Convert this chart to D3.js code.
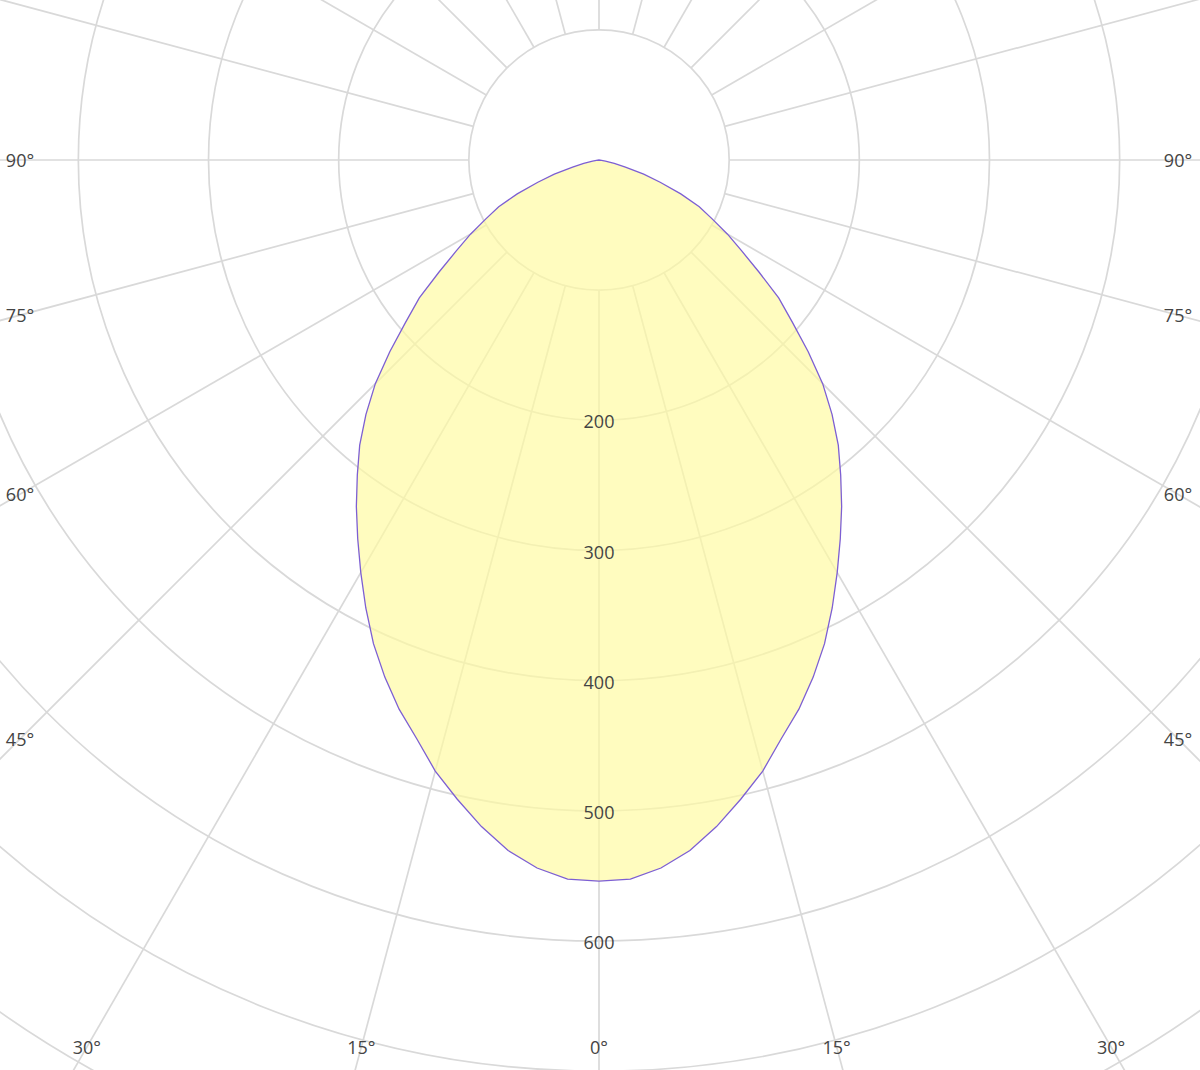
<!DOCTYPE html>
<html><head><meta charset="utf-8">
<script src="https://cdn.jsdelivr.net/npm/d3@7"></script>
<style>html,body{margin:0;padding:0;background:#fff;overflow:hidden}</style>
</head><body><svg id="c" width="1200" height="1070"></svg>
<script>
// gamma angles (degrees from nadir) and luminous intensity (cd)
const gammaAngles = [0,2.5,5,7.5,10,12.5,15,17.5,20,22.5,25,27.5,30,32.5,35,37.5,40,42.5,45,47.5,50,52.5,55,57.5,60,62.5,65,67.5,70,72.5,75,77.5,80,82.5,85,87.5,90];
const intensity   = [554,553,546,535,520,503,486,466,449,430,410,388,366,345,325,305,286,265,243,218,194,174,150,130,114,98,85,68,50,36,21,12,5,2,0,0,0];
const ringValues = [100,200,300,400,500,600,700,800,900,1000];
const ringLabelValues = [200,300,400,500,600];
const spokeAngles = [0,15,30,45,60,75,90,105,120,135,150,165,180,195,210,225,240,255,270,285,300,315,330,345];
const angleLabelValues = [0,15,30,45,60,75,90];

const W = 1200, H = 1070, cx = 599, cy = 160;
const rad = d => d * Math.PI / 180;
const r = d3.scaleLinear().domain([0, 600]).range([0, 781]);

const svg = d3.select('#c');
const g = svg.append('g').attr('transform', `translate(${cx},${cy})`);

// rings
g.append('g').selectAll('circle').data(ringValues).join('circle')
  .attr('r', d => r(d)).attr('fill', 'none')
  .attr('stroke', '#d9d9d9').attr('stroke-width', 1.7);

// spokes (angle from nadir: x = sin, y = cos)
g.append('g').selectAll('line').data(spokeAngles).join('line')
  .attr('x1', d => r(100) * Math.sin(rad(d)))
  .attr('y1', d => r(100) * Math.cos(rad(d)))
  .attr('x2', d => r(1500) * Math.sin(rad(d)))
  .attr('y2', d => r(1500) * Math.cos(rad(d)))
  .attr('stroke', '#d9d9d9').attr('stroke-width', 1.7);

// curve points, mirrored
const pts = [];
for (let i = gammaAngles.length - 1; i > 0; i--) pts.push({a: -gammaAngles[i], v: intensity[i]});
for (let i = 0; i < gammaAngles.length; i++) pts.push({a: gammaAngles[i], v: intensity[i]});

const line = d3.lineRadial()
  .angle(d => Math.PI - rad(d.a))
  .radius(d => r(d.v))
  .curve(d3.curveLinearClosed);

g.append('path').datum(pts)
  .attr('d', line)
  .attr('fill', '#fffaa0').attr('fill-opacity', 0.68)
  .attr('stroke', '#7d5fd3').attr('stroke-width', 1.3);

// ring labels
g.append('g').selectAll('text').data(ringLabelValues).join('text')
  .attr('x', 0).attr('y', d => r(d) + 1)
  .attr('text-anchor', 'middle').attr('dominant-baseline', 'central')
  .attr('font-family', '"Open Sans", "Noto Sans", sans-serif').attr('font-size', 18)
  .attr('fill', '#444').text(d => d);

// angle labels at chart edges
const leftX = 20 - cx, rightX = 1178 - cx, bottomY = 1047 - cy;
const labels = [];
angleLabelValues.forEach(a => {
  const signs = a === 0 ? [1] : [-1, 1];
  signs.forEach(s => {
    const dx = Math.sin(rad(a)) * s, dy = Math.cos(rad(a));
    let t = Infinity;
    if (dy > 1e-6) t = Math.min(t, bottomY / dy);
    if (dx < -1e-6) t = Math.min(t, leftX / dx);
    if (dx > 1e-6) t = Math.min(t, rightX / dx);
    labels.push({a, x: t * dx, y: t * dy});
  });
});
g.append('g').selectAll('text').data(labels).join('text')
  .attr('x', d => d.x).attr('y', d => d.y)
  .attr('text-anchor', 'middle').attr('dominant-baseline', 'central')
  .attr('font-family', '"Open Sans", "Noto Sans", sans-serif').attr('font-size', 18)
  .attr('fill', '#444').text(d => d.a + '°');
</script></body></html>
